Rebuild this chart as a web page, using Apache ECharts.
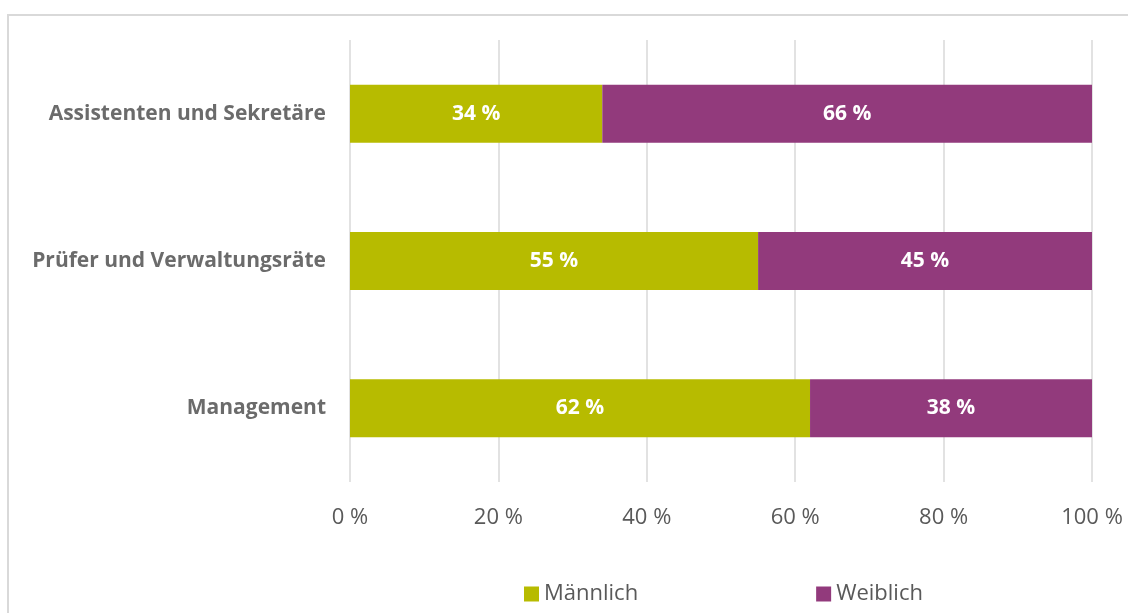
<!DOCTYPE html>
<html>
<head>
<meta charset="utf-8">
<script src="https://cdn.jsdelivr.net/npm/echarts@6/dist/echarts.min.js"></script>
<style>
  body { margin: 0; background: #fff; }
  #chart { width: 1128px; height: 613px; }
  #frame {
    position: absolute; left: 7px; top: 14px; width: 1200px; height: 700px;
    border-left: 2px solid #d9d9d9; border-top: 2px solid #d9d9d9; pointer-events: none;
  }
</style>
</head>
<body>
<div id="chart"></div>
<div id="frame"></div>
<script>
const categories = ["Assistenten und Sekretäre", "Prüfer und Verwaltungsräte", "Management"];
const maennlich = [34, 55, 62];
const weiblich = [66, 45, 38];
const xTicks = [0, 20, 40, 60, 80, 100];

const font = "Open Sans";
const chart = echarts.init(document.getElementById("chart"));

const labelStyle = {
  show: true,
  color: "#fff",
  fontFamily: font,
  fontWeight: "bold",
  fontSize: 21,
  formatter: (p) => p.value + " %",
};

chart.setOption({
  animation: false,
  grid: { left: 350, right: 36, top: 40, bottom: 131 },
  legend: {
    top: 578,
    left: 519,
    itemWidth: 15,
    itemHeight: 15,
    itemGap: 178,
    icon: "rect",
    textStyle: { fontFamily: font, fontSize: 22, color: "#595959" },
    data: ["Männlich", "Weiblich"],
  },
  xAxis: {
    type: "value",
    min: xTicks[0],
    max: xTicks[xTicks.length - 1],
    interval: 20,
    axisLine: { show: false },
    axisTick: { show: false },
    splitLine: { lineStyle: { color: "#d9d9d9", width: 1.5 } },
    axisLabel: {
      margin: 25,
      fontFamily: font,
      fontSize: 22,
      color: "#595959",
      formatter: (v) => v + " %",
    },
  },
  yAxis: {
    type: "category",
    inverse: true,
    data: categories,
    axisLine: { show: false },
    axisTick: { show: false },
    axisLabel: {
      margin: 24,
      fontFamily: font,
      fontWeight: "bold",
      fontSize: 21,
      color: "#6b6b6b",
    },
  },
  series: [
    {
      name: "Männlich",
      type: "bar",
      stack: "total",
      barWidth: 58,
      itemStyle: { color: "#b7bb00" },
      label: labelStyle,
      data: maennlich,
    },
    {
      name: "Weiblich",
      type: "bar",
      stack: "total",
      barWidth: 58,
      itemStyle: { color: "#923a7c" },
      label: labelStyle,
      data: weiblich,
    },
  ],
});
</script>
</body>
</html>
